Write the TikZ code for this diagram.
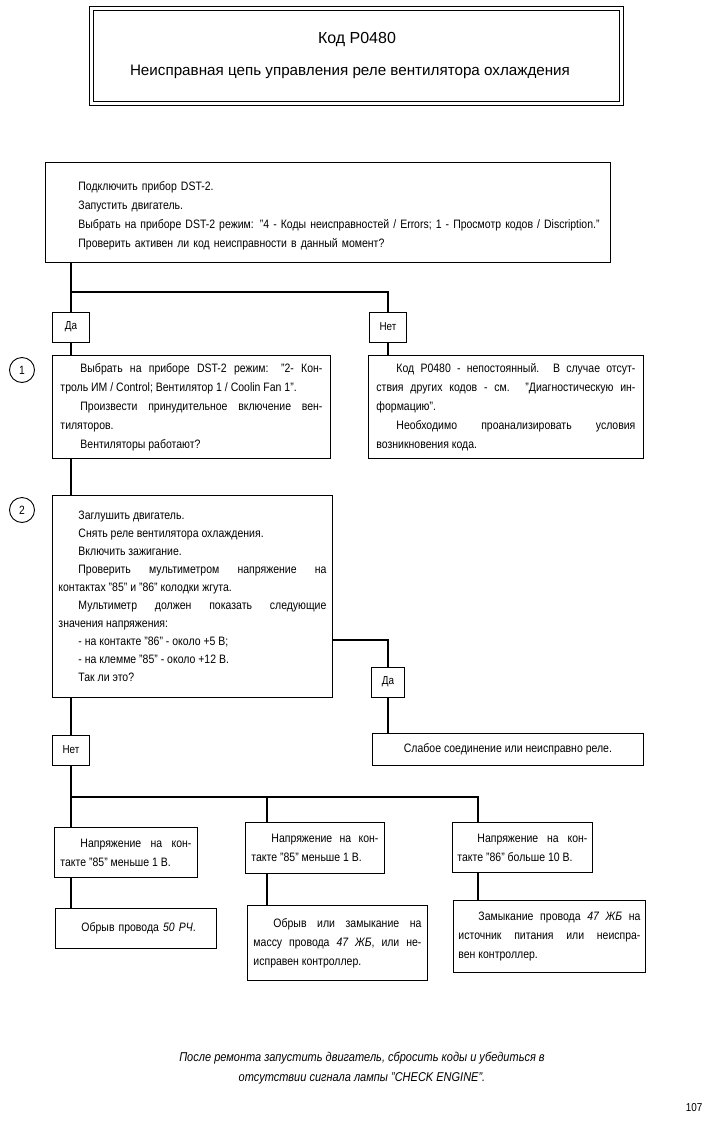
\documentclass[tikz,border=0pt]{standalone}
\usepackage{fontspec}
\setmainfont{Liberation Sans}[FakeStretch=0.86]
\newfontfamily\ttlfont{Liberation Sans}
\newcommand\myind{\hspace*{20pt}}
\newcommand\lind{\hspace*{33pt}}
\hyphenpenalty=10000
\exhyphenpenalty=10000
\tikzset{
 conn/.style={line width=2.3pt},
 frame/.style={draw, line width=0.9pt, anchor=north west, inner ysep=0pt},
 txt/.style={font=\fontsize{12.2}{19}\selectfont},
 jbox/.style={frame, txt, align=justify},
 tag/.style={draw, line width=0.9pt, minimum width=37pt, minimum height=30pt, inner sep=0pt, font=\fontsize{11.5}{13}\selectfont},
 num/.style={circle, draw, line width=0.9pt, minimum size=25pt, inner sep=0pt, font=\fontsize{12}{14}\selectfont}
}
\begin{document}
\begin{tikzpicture}[x=1pt,y=-1pt]
\useasboundingbox[fill=white] (0,0) rectangle (711,1124);

% title
\node[draw, double, line width=0.9pt, double distance=3pt, minimum width=530pt, minimum height=95pt, anchor=north west] (title) at (91,8) {};
\node[font=\ttlfont\fontsize{16}{18}\selectfont] (t1) at (357,40) {Код P0480};
\node[font=\ttlfont\fontsize{15.2}{17}\selectfont] (t2) at (350,72) {Неисправная цепь управления реле вентилятора охлаждения};

% first box
\node[frame, txt, text width=565pt, inner xsep=0pt, minimum height=100pt, align=left] (A) at (45,162)
 {\lind\rule{0pt}{16pt}Подключить прибор DST-2.\\
  \lind Запустить двигатель.\\
  \lind Выбрать на приборе DST-2 режим: "4 - Коды неисправностей / Errors; 1 - Просмотр кодов / Discription."\\
  \lind Проверить активен ли код неисправности в данный момент?};

\node[tag] (da1) at (71,327) {Да};
\node[tag] (net1) at (388,327) {Нет};

\node[jbox, text width=262pt, inner xsep=8pt, minimum height=103pt] (b1) at (52,355)
 {\myind Выбрать на приборе DST-2 режим: "2- Кон-\linebreak
  троль ИМ / Control; Вентилятор 1 / Coolin Fan 1".\par
  \myind Произвести принудительное включение вен-\linebreak
  тиляторов.\par
  \myind Вентиляторы работают?};

\node[jbox, text width=259pt, inner xsep=8pt, minimum height=103pt] (bn) at (368,355)
 {\myind Код P0480 - непостоянный. В случае отсут-\linebreak
  ствия других кодов - см. "Диагностическую ин-\linebreak
  формацию".\par
  \myind Необходимо проанализировать условия\linebreak
  возникновения кода.};

\node[num] (c1) at (22,370) {1};
\node[num] (c2) at (22,510) {2};

\node[jbox, text width=268pt, inner xsep=6pt, minimum height=202pt, font=\fontsize{12.2}{18}\selectfont] (b2) at (52,495)
 {\myind Заглушить двигатель.\par
  \myind Снять реле вентилятора охлаждения.\par
  \myind Включить зажигание.\par
  \myind Проверить мультиметром напряжение на\linebreak
  контактах "85" и "86" колодки жгута.\par
  \myind Мультиметр должен показать следующие\linebreak
  значения напряжения:\par
  \myind - на контакте "86" - около +5 В;\par
  \myind - на клемме "85" - около +12 В.\par
  \myind Так ли это?};

\node[tag, minimum width=33pt] (da2) at (388,682) {Да};
\node[frame, txt, minimum width=271pt, minimum height=32pt, align=center] (weak) at (372,733)
 {Слабое соединение или неисправно реле.};

\node[tag] (net2) at (71,750) {Нет};

% bottom row
\node[jbox, text width=131pt, inner xsep=6pt, minimum height=50pt] (l1) at (54,827)
 {\myind Напряжение на кон-\linebreak такте "85" меньше 1 В.};
\node[jbox, text width=127pt, inner xsep=6pt, minimum height=51pt] (m1) at (245,822)
 {\myind Напряжение на кон-\linebreak такте "85" меньше 1 В.};
\node[jbox, text width=130pt, inner xsep=5pt, minimum height=50pt] (r1) at (452,822)
 {\myind Напряжение на кон-\linebreak такте "86" больше 10 В.};

\node[frame, txt, text width=149pt, inner xsep=6pt, minimum height=40pt, align=left] (l2) at (55,908)
 {\myind Обрыв провода \textit{50 РЧ}.};
\node[jbox, text width=168pt, inner xsep=6pt, minimum height=75pt] (m2) at (247,905)
 {\myind Обрыв или замыкание на\linebreak
  массу провода \textit{47 ЖБ}, или не-\linebreak
  исправен контроллер.};
\node[jbox, text width=182pt, inner xsep=5pt, minimum height=72pt] (r2) at (453,900)
 {\myind Замыкание провода \textit{47 ЖБ} на\linebreak
  источник питания или неиспра-\linebreak
  вен контроллер.};

% connectors
\coordinate (j1) at (71,292);
\draw[conn] (j1 |- A.south) -- (da1.north);
\draw[conn] (j1) -- (j1 -| net1) -- (net1.north);
\draw[conn] (da1.south) -- (da1.south |- b1.north);
\draw[conn] (net1.south) -- (net1.south |- bn.north);
\draw[conn] (b1.south -| da1) -- (b2.north -| da1);
\coordinate (j2) at (388,640);
\draw[conn] (j2 -| b2.east) -- (j2) -- (da2.north);
\draw[conn] (da2.south) -- (da2.south |- weak.north);
\draw[conn] (b2.south -| net2) -- (net2.north);
\coordinate (j3) at (71,797);
\coordinate (d2) at (267,797);
\coordinate (d3) at (478,797);
\draw[conn] (net2.south) -- (j3) -- (d3) -- (d3 |- r1.north);
\draw[conn] (j3) -- (j3 |- l1.north);
\draw[conn] (d2) -- (d2 |- m1.north);
\draw[conn] (j3 |- l1.south) -- (j3 |- l2.north);
\draw[conn] (d2 |- m1.south) -- (d2 |- m2.north);
\draw[conn] (d3 |- r1.south) -- (d3 |- r2.north);

% footer
\node[font=\itshape\fontsize{12.8}{20}\selectfont, align=center] (foot) at (362,1068)
 {После ремонта запустить двигатель, сбросить коды и убедиться в\\
  отсутствии сигнала лампы "CHECK ENGINE".};
\node[font=\fontsize{11.5}{13}\selectfont] (pg) at (694,1108) {107};
\end{tikzpicture}
\end{document}
